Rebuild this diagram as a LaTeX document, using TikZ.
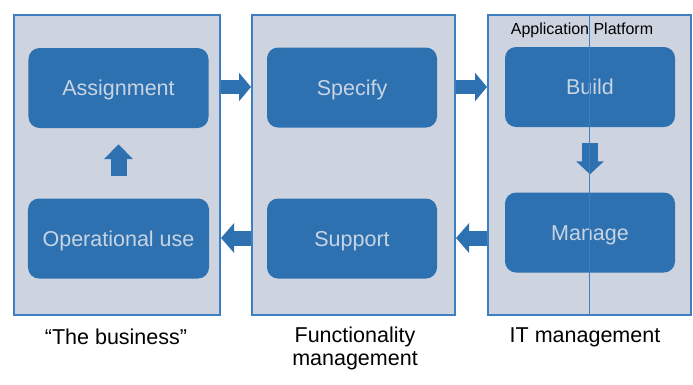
\documentclass[tikz,border=0pt]{standalone}
\usepackage{fontspec}
\setmainfont{Liberation Sans}
\usetikzlibrary{arrows.meta,calc}
\definecolor{panelfill}{RGB}{205,212,224}
\definecolor{panelline}{RGB}{62,127,193}
\definecolor{boxfill}{RGB}{46,113,176}
\definecolor{boxtext}{RGB}{200,212,228}
\tikzset{
  panel/.style={draw=panelline, line width=2bp, fill=panelfill, minimum width=#1, minimum height=300bp, inner sep=0pt},
  stage/.style={fill=boxfill, rounded corners=11bp, minimum height=80bp, minimum width=#1, inner sep=0pt,
                text=boxtext, font=\fontsize{21.5bp}{24bp}\selectfont, text height=15.5bp, text depth=0bp},
  flow/.style={draw=boxfill, line width=#1},
  caption/.style={font=\fontsize{21.5bp}{23bp}\selectfont, align=center, text=black},
}
\begin{document}
\begin{tikzpicture}[x=1bp,y=-1bp]
  \useasboundingbox (0,0) rectangle (693,384);
  % three columns
  \node[panel=206bp] (biz) at (117,165) {};
  \node[panel=203bp] (fun) at (353.5,165) {};
  \node[panel=203bp] (itm) at (589.5,165) {};
  % process stages
  \node[stage=180bp] (asg) at (118.5,88) {Assignment};
  \node[stage=181bp] (ops) at (118.5,238.5) {Operational use};
  \node[stage=170bp] (spc) at (352,87.5) {Specify};
  \node[stage=170bp] (sup) at (352,238.5) {Support};
  \node[stage=170bp] (bld) at (590,87) {Build};
  \node[stage=170bp] (mng) at (590,232.5) {Manage};
  \node[font=\fontsize{16bp}{18bp}\selectfont, text=black] (app) at (582,30.5) {Application Platform};
  % flow arrows
  \coordinate (r1) at (0,87);
  \coordinate (l1) at (0,238);
  \draw[flow=14bp, -{Triangle[length=12bp,width=28bp]}] (biz.east |- r1) -- (fun.west |- r1);
  \draw[flow=14bp, -{Triangle[length=12bp,width=28bp]}] (fun.east |- r1) -- (itm.west |- r1);
  \draw[flow=15bp, -{Triangle[length=13bp,width=29bp]}] (fun.west |- l1) -- (biz.east |- l1);
  \draw[flow=15bp, -{Triangle[length=13bp,width=29bp]}] (itm.west |- l1) -- (fun.east |- l1);
  \draw[flow=16bp, -{Triangle[length=15bp,width=28bp]}] ($(ops.north)+(0,-22)$) -- ($(asg.south)+(0,16)$);
  \draw[flow=16bp, -{Triangle[length=13bp,width=27bp]}] ($(bld.south)+(0,16)$) -- ($(mng.north)+(0,-18)$);
  % divider through the platform column
  \draw[panelline, line width=1.2bp] (itm.north) -- (itm.south);
  % column captions
  \node[caption] (c1) at (116,337) {“The business”};
  \node[caption] (c2) at (355,348.5) {Functionality\\management};
  \node[caption] (c3) at (585,337) {IT management};
\end{tikzpicture}
\end{document}
